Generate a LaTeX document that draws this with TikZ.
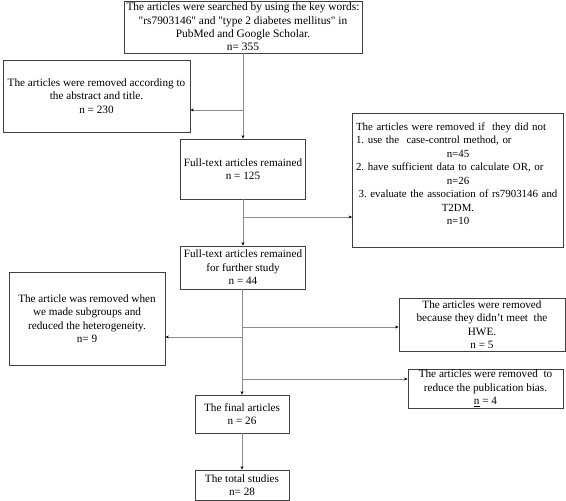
\documentclass[tikz,border=0pt]{standalone}
\usepackage{fontspec}
\setmainfont{Liberation Serif}[Ligatures=TeXOff]
\usetikzlibrary{arrows.meta}
\begin{document}
\frenchspacing
\begin{tikzpicture}[x=1pt,y=-1pt,
  box/.style={draw=black!75,line width=0.8pt,inner sep=1pt,align=center,
    font=\fontsize{11.2}{13.5}\selectfont},
  line/.style={draw=black!45,line width=0.6pt},
  arr/.style={line,-{Stealth[length=3.5pt,width=3pt,black]}},
  txt/.style={align=center,font=\fontsize{10.9}{13.5}\selectfont,inner sep=0pt}
]
\useasboundingbox (0,0) rectangle (566,501);
\node[box,minimum width=238pt,minimum height=52pt,font=\fontsize{11.4}{13.3}\selectfont] (top) at (243,27)
  {The articles were searched by using the key words:\\
   "rs7903146" and "type 2 diabetes mellitus" in\\
   PubMed and Google Scholar.\\ n= 355};
\node[box,minimum width=187pt,minimum height=72pt] (abs) at (96.5,96)
  {The articles were removed according to\\ the abstract and title.\\ n = 230};
\node[box,minimum width=125pt,minimum height=60pt] (ft) at (243,169)
  {Full-text articles remained\\ n = 125};
\node[box,minimum width=211pt,minimum height=134pt] (cc) at (458,180) {};
\node[txt,text width=204pt] (cctxt) at (458,173.5)
  {\makebox[\linewidth][l]{The articles were removed if\ \ they did not}\\
   \makebox[\linewidth][l]{1. use the\ \ case-control method, or}\\
   n=45\\
   \makebox[\linewidth][l]{2. have sufficient data to calculate OR, or}\\
   n=26\\
   3. evaluate the association of rs7903146 and\\
   T2DM.\\
   n=10};
\node[box,minimum width=125pt,minimum height=43pt] (fs) at (243,267.5)
  {Full-text articles remained\\ for further study\\ n = 44};
\node[box,minimum width=156pt,minimum height=93pt] (het) at (87,318.5)
  {The article was removed when\\ we made subgroups and\\ reduced the heterogeneity.\\ n= 9};
\node[box,minimum width=166pt,minimum height=53pt] (hwe) at (482,324.5)
  {The articles were removed\\ because they didn’t meet\ \ the\\ HWE.\\ n = 5};
\node[box,minimum width=155pt,minimum height=39pt] (pub) at (485.5,388.5)
  {The articles were removed\ \ to\\ reduce the publication bias.\\ \underline{n} = 4};
\node[box,minimum width=94pt,minimum height=38pt] (fin) at (242,414)
  {The final articles\\ n = 26};
\node[box,minimum width=94pt,minimum height=30pt] (tot) at (242,485)
  {The total studies\\ n= 28};
% connectors
\coordinate (b1) at (243,110);
\coordinate (b2) at (243,217);
\coordinate (b3) at (242,337);
\coordinate (b4) at (242,327);
\coordinate (b5) at (242,379);
\draw[arr] (top.south) -- (ft.north);
\draw[arr] (b1) -- (b1 -| abs.east);
\draw[arr] (ft.south) -- (fs.north);
\draw[arr] (b2) -- (b2 -| cc.west);
\draw[arr] (fs.south -| fin.north) -- (fin.north);
\draw[arr] (b3) -- (b3 -| het.east);
\draw[arr] (b4) -- (b4 -| hwe.west);
\draw[arr] (b5) -- (b5 -| pub.west);
\draw[arr] (fin.south) -- (tot.north);
\end{tikzpicture}
\end{document}
